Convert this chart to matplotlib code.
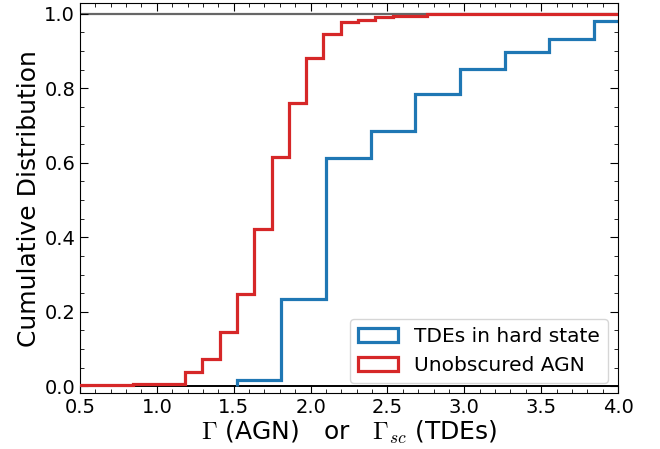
import matplotlib
matplotlib.use('Agg')
import matplotlib.pyplot as plt
import numpy as np
from matplotlib.ticker import MultipleLocator

# Distribución acumulada del índice de fotones
tde_edges = [1.519, 1.810, 2.100, 2.391, 2.681, 2.972, 3.262, 3.553, 3.843, 4.134]
tde_cdf = [0.016, 0.233, 0.612, 0.684, 0.784, 0.851, 0.896, 0.933, 0.981]

agn_edges = [0.30, 0.845, 1.183, 1.296, 1.408, 1.521, 1.634, 1.746, 1.859,
             1.972, 2.084, 2.197, 2.310, 2.422, 2.535, 2.760, 3.099, 4.30]
agn_cdf = [0.003, 0.007, 0.038, 0.074, 0.146, 0.249, 0.422, 0.616, 0.760,
           0.881, 0.946, 0.977, 0.983, 0.992, 0.995, 0.998, 1.0]

etiquetas = ['TDEs in hard state', 'Unobscured AGN']
colores = ['#1f77b4', '#d62728']

plt.rcParams['mathtext.fontset'] = 'cm'

fig = plt.figure(figsize=(6.6, 4.49), dpi=100)
ax = fig.add_axes([0.1212, 0.1247, 0.8152, 0.8679])

ax.axhline(0, color='k', lw=1.4, zorder=1)
ax.axhline(1, color='0.4', lw=1.6, zorder=1)

ax.hist(tde_edges[:-1], bins=tde_edges, weights=tde_cdf, histtype='step',
        color=colores[0], lw=2.3, label=etiquetas[0], zorder=2)
ax.hist(agn_edges[:-1], bins=agn_edges, weights=agn_cdf, histtype='step',
        color=colores[1], lw=2.3, label=etiquetas[1], zorder=3)

ax.set_xlim(0.5, 4.0)
ax.set_ylim(-0.018, 1.028)
ax.xaxis.set_major_locator(MultipleLocator(0.5))
ax.xaxis.set_minor_locator(MultipleLocator(0.1))
ax.yaxis.set_major_locator(MultipleLocator(0.2))
ax.yaxis.set_minor_locator(MultipleLocator(0.05))
ax.tick_params(which='both', direction='in', top=True, right=True, labelsize=14)
ax.tick_params(which='major', length=6)
ax.tick_params(which='minor', length=3)

ax.set_xlabel(r'$\Gamma$ (AGN)   or   $\Gamma_{sc}$ (TDEs)', fontsize=18, labelpad=1)
ax.set_ylabel('Cumulative Distribution', fontsize=18, labelpad=2)
ax.legend(loc='lower right', fontsize=14.5)

fig.savefig('out.png', dpi=100)
plt.close(fig)
